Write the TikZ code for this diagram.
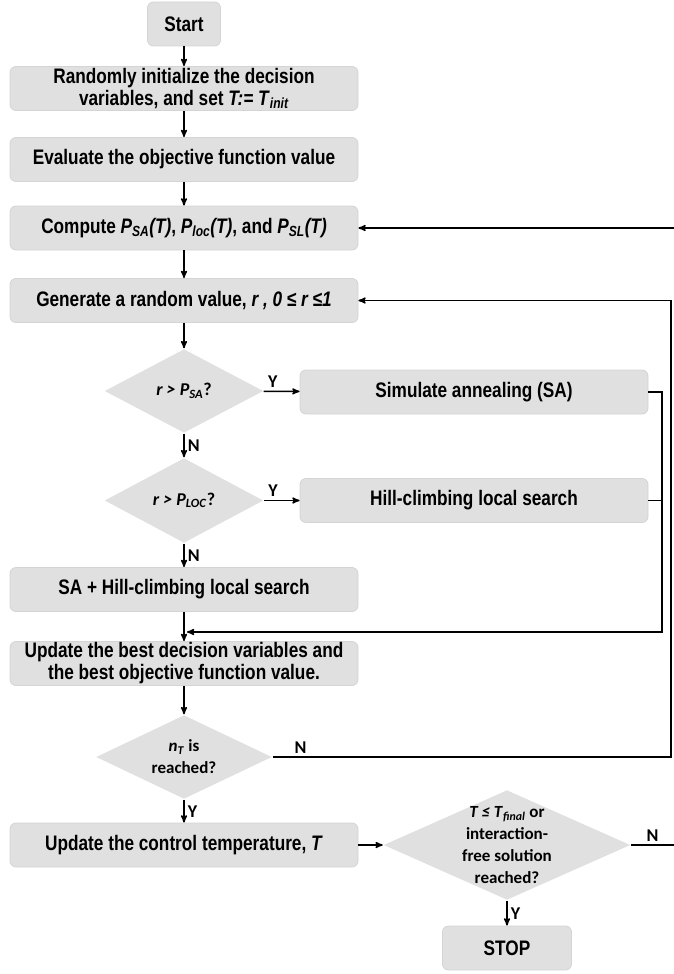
\documentclass[tikz,border=0pt]{standalone}
\usepackage{fontspec}
\setmainfont{Liberation Sans}[FakeStretch=0.82]
\newfontfamily\calfont{Carlito}
\usetikzlibrary{positioning, shapes.geometric, arrows, calc}
\definecolor{boxgray}{HTML}{E0E0E0}
\definecolor{edgegray}{HTML}{D4D4D4}

\begin{document}
\begin{tikzpicture}[x=1pt, y=-1pt, >=stealth', line width=1.5pt, auto,
  box/.style={draw=edgegray, line width=0.8pt, fill=boxgray, rounded corners=6pt,
    minimum width=348pt, minimum height=44pt, inner sep=0pt, align=center,
    font=\fontsize{21}{22}\selectfont\bfseries},
  dia/.style={diamond, fill=boxgray, inner sep=0pt},
  dtext/.style={align=center, inner sep=0pt, font=\calfont\fontsize{17}{22}\selectfont\bfseries},
  yn/.style={inner sep=3pt, font=\calfont\fontsize{18}{18}\selectfont\bfseries}]

  \useasboundingbox (0,0) rectangle (674,974);

  % main column
  \node[box, minimum width=73pt] (start) at (184,24) {Start};
  \node[box] (init) at (184,88.5) {Randomly initialize the decision\\
    variables, and set \textit{T:= T}\textsubscript{\textit{init}}};
  \node[box] (eval) at (184,159.5) {Evaluate the objective function value};
  \node[box] (comp) at (184,228) {Compute \textit{P}\textsubscript{\textit{SA}}\textit{(T)},
    \textit{P}\textsubscript{\textit{loc}}\textit{(T)}, and \textit{P}\textsubscript{\textit{SL}}\textit{(T)}};
  \node[box] (gen) at (184,300.5) {Generate a random value, \textit{r , 0 ≤ r ≤1}};

  \node[dia, minimum width=159pt, minimum height=84pt] (d1) at (184,391) {};
  \node[dtext, font=\calfont\fontsize{18}{20}\selectfont\bfseries] (d1txt) at (d1)
    {\textit{r > P}\textsubscript{\textit{SA}}?};
  \node[box] (sim) at (474,392) {Simulate annealing (SA)};

  \node[dia, minimum width=159pt, minimum height=85pt] (d2) at (184,500.5) {};
  \node[dtext, font=\calfont\fontsize{18}{20}\selectfont\bfseries] (d2txt) at (d2)
    {\textit{r > P}\textsubscript{\textit{LOC}}?};
  \node[box] (hill) at (474,500.5) {Hill-climbing local search};

  \node[box] (both) at (184,589.5) {SA + Hill-climbing local search};
  \node[box] (upd) at (184,663.5) {Update the best decision variables and\\
    the best objective function value.};

  \node[dia, minimum width=176pt, minimum height=84pt] (d3) at (184,757) {};
  \node[dtext] (d3txt) at (d3) {\textit{n}\textsubscript{\textit{T}} is\\reached?};

  \node[box] (temp) at (184,845) {Update the control temperature, \textit{T}};
  \node[dia, minimum width=247pt, minimum height=110pt] (d4) at (507,845) {};
  \node[dtext] (d4txt) at (d4) {\textit{T ≤ T}\textsubscript{\textit{final}} or\\
    interaction-\\free solution\\reached?};
  \node[box, minimum width=129pt] (stop) at (507,948) {STOP};

  % loose ends
  \coordinate (aux0) at (662,632);
  \coordinate (aux1) at (185,632);
  \coordinate (aux2) at (671,757);
  \coordinate (aux3) at (674,228);
  \coordinate (aux4) at (674,845);

  \path[->] (start) edge (init)
    (init) edge (eval)
    (eval) edge (comp)
    (comp) edge (gen)
    (gen) edge (d1)
    (d1) edge node[yn, pos=0.25] {Y} (sim)
    (d1) edge node[yn] {N} (d2)
    (d2) edge node[yn, pos=0.25] {Y} (hill)
    (d2) edge node[yn] {N} (both)
    (both) edge (upd)
    (upd) edge (d3)
    (d3) edge node[yn] {Y} (temp)
    (temp) edge (d4)
    (d4) edge node[yn] {Y} (stop)
    (aux3) edge (comp.east);
  \path (d4.east) edge node[yn] {N} (aux4);

  \draw[->, shorten >=2pt] (sim.east) -| (aux0) -- (aux1);
  \draw (hill.east) -- (hill.east -| aux0);
  \draw[->] (d3.east) -- node[yn, pos=0.07] {N} (aux2) |- (gen.east);
\end{tikzpicture}
\end{document}
